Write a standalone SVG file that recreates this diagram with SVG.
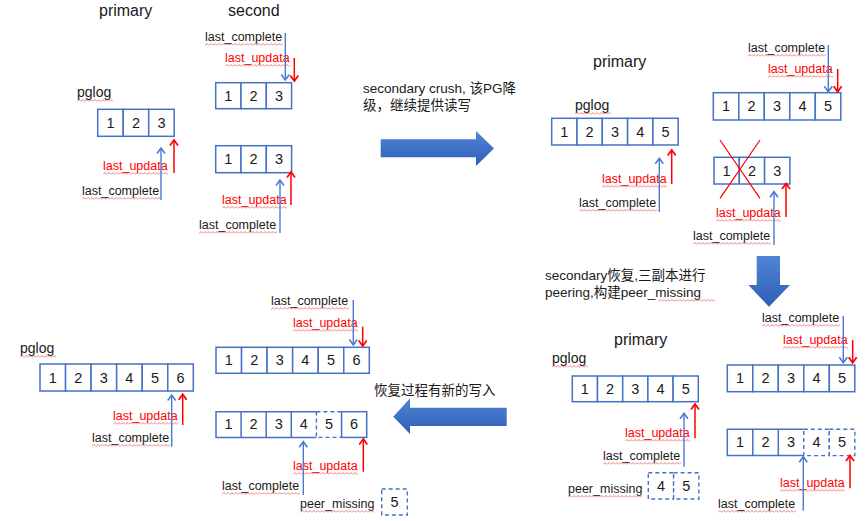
<svg xmlns="http://www.w3.org/2000/svg" width="865" height="521" viewBox="0 0 865 521">
<style>
.c{fill:#fff;stroke:#4472c4;stroke-width:1.5}
.s{fill:none;stroke:#4472c4;stroke-width:1.5}
.d{fill:#fff;stroke:#4472c4;stroke-width:1.4;stroke-dasharray:4 3}
.n{font-family:"Liberation Sans",Arial,sans-serif;font-size:14.5px;text-anchor:middle;fill:#1a1a1a}
.t{font-family:"Liberation Sans",Arial,sans-serif;font-size:12.5px;fill:#1a1a1a}
.r{fill:#ff0000}
.h{font-family:"Liberation Sans",Arial,sans-serif;font-size:16px;fill:#1a1a1a}
.p{font-family:"Liberation Sans",Arial,sans-serif;font-size:14px;fill:#1a1a1a}
.cj{font-family:"Liberation Sans","Noto Sans CJK SC",sans-serif;font-size:13.5px;fill:#1a1a1a}
.bl{stroke:#4a7bd0;stroke-width:1.4;fill:none;marker-end:url(#ab)}
.rl{stroke:#ff0000;stroke-width:1.5;fill:none;marker-end:url(#ar)}
.w{fill:url(#wv)}
.big{fill:url(#gb)}
</style>
<defs>
<marker id="ab" markerWidth="12" markerHeight="12" refX="6" refY="6" orient="auto" markerUnits="userSpaceOnUse"><path d="M0.5,2 L6,6 L0.5,10" fill="none" stroke="#4a7bd0" stroke-width="1.6"/></marker>
<marker id="ar" markerWidth="12" markerHeight="12" refX="6" refY="6" orient="auto" markerUnits="userSpaceOnUse"><path d="M0.5,2 L6,6 L0.5,10" fill="none" stroke="#ff0000" stroke-width="1.7"/></marker>
<pattern id="wv" width="4" height="3" patternUnits="userSpaceOnUse"><path d="M0,2.5 L2,0.5 L4,2.5" fill="none" stroke="#e84040" stroke-width="0.7"/></pattern>
<linearGradient id="gb" x1="0" y1="0" x2="0" y2="1"><stop offset="0" stop-color="#5084d6"/><stop offset="1" stop-color="#2f5fb6"/></linearGradient>
</defs>

<!-- headings and annotations -->
<g id="headings">
<text class="h" x="99" y="16">primary</text>
<text class="h" x="228" y="16">second</text>
<text class="h" x="593" y="67">primary</text>
<text class="h" x="614" y="345">primary</text>
<text class="p" x="77" y="97">pglog</text><rect class="w" width="36" height="3" transform="translate(77,99)"/>
<text class="p" x="575" y="110">pglog</text><rect class="w" width="36" height="3" transform="translate(575,112)"/>
<text class="p" x="552" y="363">pglog</text><rect class="w" width="36" height="3" transform="translate(552,365)"/>
<text class="p" x="20" y="353">pglog</text><rect class="w" width="36" height="3" transform="translate(20,355)"/>
<text class="cj" x="363" y="93">secondary crush, 该PG降</text>
<text class="cj" x="363" y="110">级，继续提供读写</text>
<text class="cj" x="545" y="280">secondary恢复,三副本进行</text>
<text class="cj" x="545" y="297">peering,构建peer_missing</text><rect class="w" width="57" height="3" transform="translate(658,299)"/>
<text class="cj" x="374" y="395">恢复过程有新的写入</text>
</g>

<!-- big arrows -->
<g id="big-arrows">
<polygon class="big" points="380.7,139.3 476,139.3 476,131 494,148.5 476,166 476,157.3 380.7,157.3"/>
<polygon class="big" points="756.7,256 780,256 780,285 790,285 769,306.7 748.3,285 756.7,285"/>
<polygon class="big" points="506.7,407.7 410,407.7 410,398.3 393.3,416.7 410,434 410,426 506.7,426"/>
</g>

<!-- log boxes -->
<g id="a1" transform="translate(97.7,109.3)">
<rect class="c" x="0" y="0" width="25.5" height="27"/><rect class="c" x="25.5" y="0" width="25.5" height="27"/><rect class="c" x="51" y="0" width="25.5" height="27"/>
<text class="n" x="12.75" y="18.5">1</text><text class="n" x="38.25" y="18.5">2</text><text class="n" x="63.75" y="18.5">3</text>
</g>
<g id="a2" transform="translate(215.7,82.7)">
<rect class="c" x="0" y="0" width="25.3" height="26"/><rect class="c" x="25.3" y="0" width="25.3" height="26"/><rect class="c" x="50.6" y="0" width="25.3" height="26"/>
<text class="n" x="12.65" y="18">1</text><text class="n" x="37.95" y="18">2</text><text class="n" x="63.25" y="18">3</text>
</g>
<g id="a3" transform="translate(215.7,145.7)">
<rect class="c" x="0" y="0" width="25.3" height="27"/><rect class="c" x="25.3" y="0" width="25.3" height="27"/><rect class="c" x="50.6" y="0" width="25.3" height="27"/>
<text class="n" x="12.65" y="18.5">1</text><text class="n" x="37.95" y="18.5">2</text><text class="n" x="63.25" y="18.5">3</text>
</g>

<g id="b1" transform="translate(551.7,118.3)">
<rect class="c" x="0" y="0" width="25.3" height="26.7"/><rect class="c" x="25.3" y="0" width="25.3" height="26.7"/><rect class="c" x="50.6" y="0" width="25.3" height="26.7"/><rect class="c" x="75.9" y="0" width="25.3" height="26.7"/><rect class="c" x="101.2" y="0" width="25.3" height="26.7"/>
<text class="n" x="12.65" y="18.3">1</text><text class="n" x="37.95" y="18.3">2</text><text class="n" x="63.25" y="18.3">3</text><text class="n" x="88.55" y="18.3">4</text><text class="n" x="113.85" y="18.3">5</text>
</g>
<g id="b2" transform="translate(713.3,92.7)">
<rect class="c" x="0" y="0" width="25.5" height="27.3"/><rect class="c" x="25.5" y="0" width="25.5" height="27.3"/><rect class="c" x="51" y="0" width="25.5" height="27.3"/><rect class="c" x="76.5" y="0" width="25.5" height="27.3"/><rect class="c" x="102" y="0" width="25.5" height="27.3"/>
<text class="n" x="12.75" y="18.6">1</text><text class="n" x="38.25" y="18.6">2</text><text class="n" x="63.75" y="18.6">3</text><text class="n" x="89.25" y="18.6">4</text><text class="n" x="114.75" y="18.6">5</text>
</g>
<g id="b3" transform="translate(714,157.3)">
<rect class="c" x="0" y="0" width="25.3" height="26.7"/><rect class="c" x="25.3" y="0" width="25.3" height="26.7"/><rect class="c" x="50.6" y="0" width="25.3" height="26.7"/>
<text class="n" x="12.65" y="18.3">1</text><text class="n" x="37.95" y="18.3">2</text><text class="n" x="63.25" y="18.3">3</text>
<path d="M6,-17.3 L46,41 M46,-17.3 L6,41" stroke="#ff0000" stroke-width="1.2" fill="none"/>
</g>

<g id="c1" transform="translate(572.3,376)">
<rect class="c" x="0" y="0" width="25.2" height="25.7"/><rect class="c" x="25.2" y="0" width="25.2" height="25.7"/><rect class="c" x="50.4" y="0" width="25.2" height="25.7"/><rect class="c" x="75.6" y="0" width="25.2" height="25.7"/><rect class="c" x="100.8" y="0" width="25.2" height="25.7"/>
<text class="n" x="12.6" y="17.8">1</text><text class="n" x="37.8" y="17.8">2</text><text class="n" x="63" y="17.8">3</text><text class="n" x="88.2" y="17.8">4</text><text class="n" x="113.4" y="17.8">5</text>
</g>
<g id="c1-missing" transform="translate(648.3,472.7)">
<rect class="d" x="0" y="0" width="25.3" height="26.3"/><rect class="d" x="25.3" y="0" width="25.3" height="26.3"/>
<text class="n" x="12.65" y="18.2">4</text><text class="n" x="37.95" y="18.2">5</text>
</g>
<g id="c2" transform="translate(727.3,365)">
<rect class="c" x="0" y="0" width="25.5" height="26.7"/><rect class="c" x="25.5" y="0" width="25.5" height="26.7"/><rect class="c" x="51" y="0" width="25.5" height="26.7"/><rect class="c" x="76.5" y="0" width="25.5" height="26.7"/><rect class="c" x="102" y="0" width="25.5" height="26.7"/>
<text class="n" x="12.75" y="18.3">1</text><text class="n" x="38.25" y="18.3">2</text><text class="n" x="63.75" y="18.3">3</text><text class="n" x="89.25" y="18.3">4</text><text class="n" x="114.75" y="18.3">5</text>
</g>
<g id="c3" transform="translate(727.3,429.3)">
<path class="s" d="M76.5,0 H0 V26.3 H76.5 M25.5,0 V26.3 M51,0 V26.3"/>
<rect class="d" x="76.5" y="0" width="25.5" height="26.3"/><rect class="d" x="102" y="0" width="25.5" height="26.3"/>
<text class="n" x="12.75" y="18.2">1</text><text class="n" x="38.25" y="18.2">2</text><text class="n" x="63.75" y="18.2">3</text><text class="n" x="89.25" y="18.2">4</text><text class="n" x="114.75" y="18.2">5</text>
</g>

<g id="d1" transform="translate(40,364)">
<rect class="c" x="0" y="0" width="25.55" height="27"/><rect class="c" x="25.55" y="0" width="25.55" height="27"/><rect class="c" x="51.1" y="0" width="25.55" height="27"/><rect class="c" x="76.65" y="0" width="25.55" height="27"/><rect class="c" x="102.2" y="0" width="25.55" height="27"/><rect class="c" x="127.75" y="0" width="25.55" height="27"/>
<text class="n" x="12.8" y="18.5">1</text><text class="n" x="38.3" y="18.5">2</text><text class="n" x="63.9" y="18.5">3</text><text class="n" x="89.4" y="18.5">4</text><text class="n" x="115" y="18.5">5</text><text class="n" x="140.5" y="18.5">6</text>
</g>
<g id="d2" transform="translate(216,347.3)">
<rect class="c" x="0" y="0" width="25.55" height="26"/><rect class="c" x="25.55" y="0" width="25.55" height="26"/><rect class="c" x="51.1" y="0" width="25.55" height="26"/><rect class="c" x="76.65" y="0" width="25.55" height="26"/><rect class="c" x="102.2" y="0" width="25.55" height="26"/><rect class="c" x="127.75" y="0" width="25.55" height="26"/>
<text class="n" x="12.8" y="18">1</text><text class="n" x="38.3" y="18">2</text><text class="n" x="63.9" y="18">3</text><text class="n" x="89.4" y="18">4</text><text class="n" x="115" y="18">5</text><text class="n" x="140.5" y="18">6</text>
</g>
<g id="d3" transform="translate(216,411.7)">
<path class="s" d="M100.4,0 H0 V25.7 H100.4 M25.1,0 V25.7 M50.2,0 V25.7 M75.3,0 V25.7"/>
<rect class="d" x="100.4" y="0" width="25.2" height="25.7"/>
<rect class="c" x="125.6" y="0" width="25.1" height="25.7"/>
<text class="n" x="12.55" y="17.8">1</text><text class="n" x="37.65" y="17.8">2</text><text class="n" x="62.75" y="17.8">3</text><text class="n" x="87.85" y="17.8">4</text><text class="n" x="113" y="17.8">5</text><text class="n" x="138.15" y="17.8">6</text>
</g>
<g id="d3-missing" transform="translate(381.7,489)">
<rect class="d" x="0" y="0" width="25.6" height="26"/>
<text class="n" x="12.8" y="18">5</text>
</g>

<!-- pointer labels -->
<g id="labels">
<text class="t" x="205" y="41">last_complete</text><rect class="w" width="78" height="3" transform="translate(205,43)"/>
<text class="t r" x="225" y="62">last_updata</text><rect class="w" width="65" height="3" transform="translate(225,64)"/>
<text class="t r" x="103" y="170">last_updata</text><rect class="w" width="65" height="3" transform="translate(103,172)"/>
<text class="t" x="82" y="195">last_complete</text><rect class="w" width="78" height="3" transform="translate(82,197)"/>
<text class="t r" x="222" y="204">last_updata</text><rect class="w" width="65" height="3" transform="translate(222,206)"/>
<text class="t" x="199" y="229">last_complete</text><rect class="w" width="78" height="3" transform="translate(199,231)"/>

<text class="t" x="748" y="52">last_complete</text><rect class="w" width="78" height="3" transform="translate(748,54)"/>
<text class="t r" x="768" y="73">last_updata</text><rect class="w" width="65" height="3" transform="translate(768,75)"/>
<text class="t r" x="602" y="183">last_updata</text><rect class="w" width="65" height="3" transform="translate(602,185)"/>
<text class="t" x="579" y="207">last_complete</text><rect class="w" width="78" height="3" transform="translate(579,209)"/>
<text class="t r" x="716" y="217">last_updata</text><rect class="w" width="65" height="3" transform="translate(716,219)"/>
<text class="t" x="693" y="240">last_complete</text><rect class="w" width="78" height="3" transform="translate(693,242)"/>

<text class="t" x="762" y="322">last_complete</text><rect class="w" width="78" height="3" transform="translate(762,324)"/>
<text class="t r" x="783" y="344">last_updata</text><rect class="w" width="65" height="3" transform="translate(783,346)"/>
<text class="t r" x="625" y="437">last_updata</text><rect class="w" width="65" height="3" transform="translate(625,439)"/>
<text class="t" x="603" y="460">last_complete</text><rect class="w" width="78" height="3" transform="translate(603,462)"/>
<text class="t" x="568" y="493">peer_missing</text><rect class="w" width="74" height="3" transform="translate(568,495)"/>
<text class="t r" x="780" y="487">last_updata</text><rect class="w" width="65" height="3" transform="translate(780,489)"/>
<text class="t" x="718" y="508">last_complete</text><rect class="w" width="78" height="3" transform="translate(718,510)"/>

<text class="t r" x="113" y="420">last_updata</text><rect class="w" width="65" height="3" transform="translate(113,422)"/>
<text class="t" x="92" y="442">last_complete</text><rect class="w" width="78" height="3" transform="translate(92,444)"/>
<text class="t" x="271" y="305">last_complete</text><rect class="w" width="78" height="3" transform="translate(271,307)"/>
<text class="t r" x="293" y="327">last_updata</text><rect class="w" width="65" height="3" transform="translate(293,329)"/>
<text class="t r" x="293" y="470">last_updata</text><rect class="w" width="65" height="3" transform="translate(293,472)"/>
<text class="t" x="222" y="490">last_complete</text><rect class="w" width="78" height="3" transform="translate(222,492)"/>
<text class="t" x="300" y="508">peer_missing</text><rect class="w" width="74" height="3" transform="translate(300,510)"/>
</g>

<!-- pointer connectors -->
<g id="connectors">
<line class="bl" x1="285.3" y1="33" x2="285.3" y2="80"/>
<line class="rl" x1="294.3" y1="58" x2="294.3" y2="81"/>
<line class="rl" x1="174" y1="173" x2="174" y2="140"/>
<line class="bl" x1="161" y1="200" x2="161" y2="148"/>
<line class="rl" x1="291" y1="205" x2="291" y2="172"/>
<line class="bl" x1="280" y1="233" x2="280" y2="180"/>

<line class="bl" x1="828.3" y1="45" x2="828.3" y2="91.7"/>
<line class="rl" x1="837.7" y1="69" x2="837.7" y2="91.7"/>
<line class="rl" x1="671.7" y1="184" x2="671.7" y2="150"/>
<line class="bl" x1="659.3" y1="212" x2="659.3" y2="158.3"/>
<line class="rl" x1="786" y1="217" x2="786" y2="183.5"/>
<line class="bl" x1="774" y1="245" x2="774" y2="191.7"/>

<line class="bl" x1="843.3" y1="316" x2="843.3" y2="362.7"/>
<line class="rl" x1="852.7" y1="340" x2="852.7" y2="362.7"/>
<line class="rl" x1="695" y1="438.3" x2="695" y2="404"/>
<line class="bl" x1="684" y1="466.7" x2="684" y2="413.3"/>
<line class="bl" x1="803.3" y1="510.7" x2="803.3" y2="456.7"/>
<line class="rl" x1="850" y1="488.3" x2="850" y2="455.5"/>

<line class="rl" x1="182.7" y1="425" x2="182.7" y2="394.3"/>
<line class="bl" x1="171.7" y1="446.7" x2="171.7" y2="395"/>
<line class="bl" x1="353.3" y1="300" x2="353.3" y2="345"/>
<line class="rl" x1="362.7" y1="326.7" x2="362.7" y2="346"/>
<line class="bl" x1="303.3" y1="495" x2="303.3" y2="441.7"/>
<line class="rl" x1="363.3" y1="471.7" x2="363.3" y2="439"/>
</g>
</svg>
